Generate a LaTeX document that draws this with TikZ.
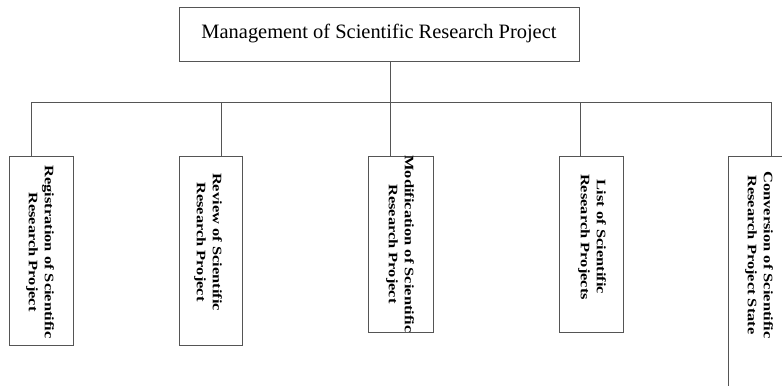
\documentclass[tikz,border=0pt]{standalone}
\usepackage{fontspec}
\setmainfont{Liberation Serif}
\usepackage{graphicx}
\definecolor{linec}{RGB}{85,85,85}
\tikzset{
  box/.style={draw=linec, line width=0.9bp, rectangle, inner sep=0pt, outer sep=0pt},
  leaftext/.style={rotate=-90, inner sep=0pt, font=\fontsize{13}{16}\selectfont\bfseries},
  conn/.style={draw=linec, line width=0.9bp}
}
\newcommand{\leaflabel}[2]{\scalebox{1.27}[1]{\begin{tabular}{@{}c@{}}#1\\#2\end{tabular}}}
\begin{document}
\begin{tikzpicture}[x=1bp,y=-1bp]
\useasboundingbox (0,0) rectangle (782,385);
\clip (0,0) rectangle (782,385);
\node[box, minimum width=400bp, minimum height=54bp, font=\fontsize{20.5}{23}\selectfont] (top) at (379,34) {Management of Scientific Research Project};
\node[box, minimum width=64bp, minimum height=189bp] (b1) at (41,250.5) {};
\node[box, minimum width=63bp, minimum height=189bp] (b2) at (210.5,250.5) {};
\node[box, minimum width=65bp, minimum height=176bp] (b3) at (400.5,244) {};
\node[box, minimum width=64bp, minimum height=176bp] (b4) at (591,244) {};
\node[box, minimum width=64bp, minimum height=244bp] (b5) at (760,278) {};
\node[leaftext] (t1) at (40,252) {\leaflabel{Registration of Scientific}{Research Project}};
\node[leaftext] (t2) at (208,242) {\leaflabel{Review of Scientific}{Research Project}};
\node[leaftext] (t3) at (400,244) {\leaflabel{Modification of Scientific}{Research Project}};
\node[leaftext] (t4) at (592,237) {\leaflabel{List of Scientific}{Research Projects}};
\node[leaftext] (t5) at (759,255) {\leaflabel{Conversion of Scientific}{Research Project State}};
\coordinate (j0) at (390,102);
\coordinate (j1) at (31,102);
\coordinate (j2) at (221,102);
\coordinate (j4) at (580,102);
\coordinate (j5) at (771,102);
\draw[conn] (j0 |- top.south) -- (j0);
\draw[conn] (j1) -- (j5);
\draw[conn] (j1) -- (j1 |- b1.north);
\draw[conn] (j2) -- (j2 |- b2.north);
\draw[conn] (j0) -- (j0 |- b3.north);
\draw[conn] (j4) -- (j4 |- b4.north);
\draw[conn] (j5) -- (j5 |- b5.north);
\end{tikzpicture}
\end{document}
